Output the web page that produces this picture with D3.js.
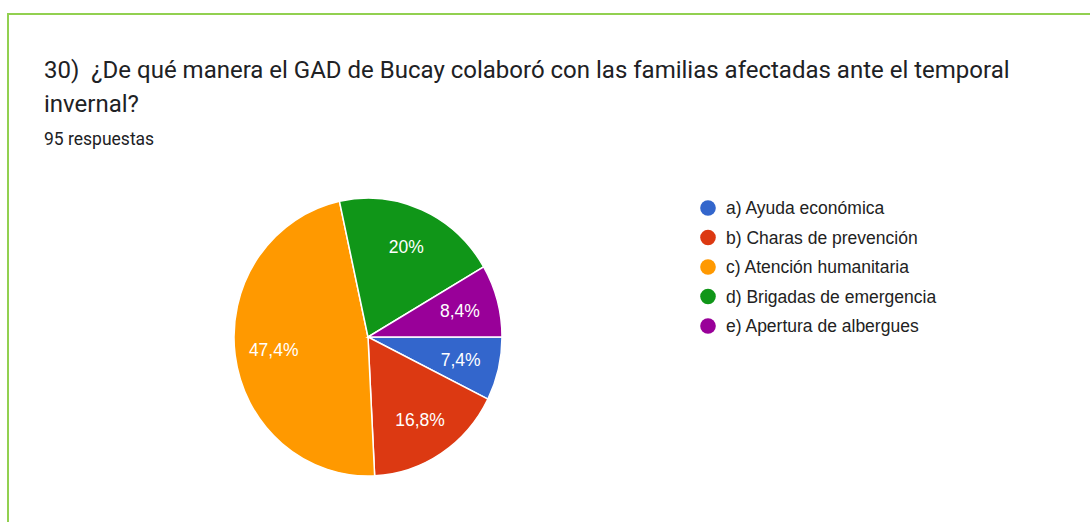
<!DOCTYPE html>
<html>
<head>
<meta charset="utf-8">
<script src="https://cdn.jsdelivr.net/npm/d3@7"></script>
<style>
  body { margin: 0; background: #fff; font-family: Roboto, Arial, sans-serif; }
  svg { display: block; }
</style>
</head>
<body>
<script>
// data (95 respuestas)
var categories = ['a) Ayuda económica', 'b) Charas de prevención', 'c) Atención humanitaria',
                  'd) Brigadas de emergencia', 'e) Apertura de albergues'];
var counts = [7, 16, 45, 19, 8];
var percentLabels = ['7,4%', '16,8%', '47,4%', '20%', '8,4%'];
var colors = ['#3366cc', '#dc3912', '#ff9900', '#109618', '#990099'];

const width = 1090;
const height = 522;

const svg = d3.select('body').append('svg')
    .attr('width', width)
    .attr('height', height);

// card border (top + left green line)
svg.append('path')
    .attr('d', `M8,${height} L8,14 L${width},14`)
    .attr('fill', 'none')
    .attr('stroke', '#92d050')
    .attr('stroke-width', 2);

svg.append('text')
    .attr('x', 44).attr('y', 78)
    .attr('fill', '#202124')
    .style('font-size', '24px')
    .attr('xml:space', 'preserve')
    .text('30)  ¿De qué manera el GAD de Bucay colaboró con las familias afectadas ante el temporal');
svg.append('text')
    .attr('x', 44).attr('y', 112)
    .attr('fill', '#202124')
    .style('font-size', '24px')
    .text('invernal?');
svg.append('text')
    .attr('x', 44).attr('y', 145)
    .attr('fill', '#202124')
    .style('font-size', '17.5px')
    .text('95 respuestas');

// pie (slightly taller than wide in the picture)
const cx = 368, cy = 337, r = 134, sy = 139 / 134;
const pie = d3.pie().sort(null)
    .startAngle(Math.PI / 2)
    .endAngle(Math.PI / 2 + 2 * Math.PI);
const arcs = pie(counts);
const arc = d3.arc().innerRadius(0).outerRadius(r);
const labelArc = d3.arc().innerRadius(r * 0.71).outerRadius(r * 0.71);

const g = svg.append('g').attr('transform', `translate(${cx},${cy})`);
g.append('g')
    .attr('transform', `scale(1,${sy})`)
    .selectAll('.slice')
    .data(arcs)
    .enter()
    .append('path')
    .classed('slice', true)
    .attr('d', arc)
    .attr('fill', (d, i) => colors[i])
    .attr('stroke', '#fff')
    .attr('stroke-width', 1.5);

g.selectAll('.slice-label')
    .data(arcs)
    .enter()
    .append('text')
    .classed('slice-label', true)
    .attr('transform', d => {
        const c = labelArc.centroid(d);
        return `translate(${c[0]},${c[1] * sy})`;
    })
    .attr('dy', '0.35em')
    .attr('text-anchor', 'middle')
    .attr('fill', '#fff')
    .style('font-family', 'Arial, "Liberation Sans", sans-serif')
    .style('font-size', '17.5px')
    .text((d, i) => percentLabels[i]);

// legend
const legend = svg.append('g').attr('transform', 'translate(708,208)');
const row = legend.selectAll('.row')
    .data(categories)
    .enter()
    .append('g')
    .classed('row', true)
    .attr('transform', (d, i) => `translate(0,${i * 29.5})`);
row.append('circle')
    .attr('r', 7.8)
    .attr('fill', (d, i) => colors[i]);
row.append('text')
    .attr('x', 18)
    .attr('dy', '0.35em')
    .attr('fill', '#222')
    .style('font-family', 'Arial, "Liberation Sans", sans-serif')
    .style('font-size', '17.5px')
    .text(d => d);
</script>
</body>
</html>
